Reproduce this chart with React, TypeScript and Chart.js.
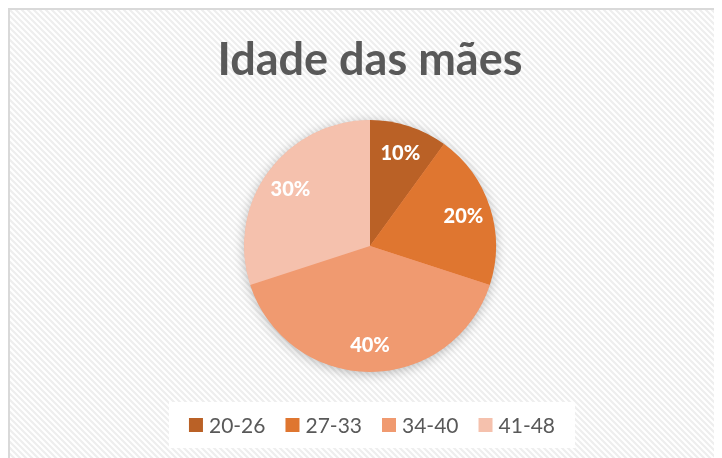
import { useEffect, useRef } from "react";
import { Chart, registerables } from "chart.js";

Chart.register(...registerables);

const chartTitle = "Idade das mães";
const categories = ["20-26", "27-33", "34-40", "41-48"];
const values = [10, 20, 40, 30];
const sliceColors = ["#BA6126", "#DF7630", "#F09A70", "#F5C1AD"];

const TEXT_GRAY = "#595959";
const FONT = "Lato, 'Open Sans', sans-serif";

function makePattern(ctx: CanvasRenderingContext2D) {
  const s = 6;
  const tile = document.createElement("canvas");
  tile.width = s;
  tile.height = s;
  const t = tile.getContext("2d")!;
  t.fillStyle = "#ffffff";
  t.fillRect(0, 0, s, s);
  t.strokeStyle = "#eeeeee";
  t.lineWidth = 2.2;
  t.beginPath();
  t.moveTo(-2, -2);
  t.lineTo(s + 2, s + 2);
  t.moveTo(-2, s - 2);
  t.lineTo(2, s + 2);
  t.moveTo(s - 2, -2);
  t.lineTo(s + 2, 2);
  t.stroke();
  return ctx.createPattern(tile, "repeat")!;
}

const decorPlugin = {
  id: "decor",
  beforeDraw(chart: any) {
    const { ctx, width, height } = chart;
    ctx.save();
    ctx.fillStyle = makePattern(ctx);
    ctx.fillRect(0, 0, width, height);
    ctx.fillStyle = "#D9D9D9";
    ctx.fillRect(0, 0, width, 2);
    ctx.fillRect(0, 0, 2, height);
    ctx.restore();
  },
  beforeDatasetsDraw(chart: any) {
    const arc = chart.getDatasetMeta(0).data[0];
    if (!arc) return;
    const { x, y, outerRadius } = arc.getProps(["x", "y", "outerRadius"], true);
    const ctx = chart.ctx;
    ctx.save();
    ctx.shadowColor = "rgba(0,0,0,0.28)";
    ctx.shadowBlur = 12;
    ctx.shadowOffsetY = 2;
    ctx.beginPath();
    ctx.arc(x, y, outerRadius - 0.5, 0, Math.PI * 2);
    ctx.fillStyle = sliceColors[2];
    ctx.fill();
    ctx.restore();
  },
  afterDatasetsDraw(chart: any) {
    const ctx = chart.ctx;
    const meta = chart.getDatasetMeta(0);
    const data = chart.data.datasets[0].data as number[];
    const total = data.reduce((a, b) => a + b, 0);
    ctx.save();
    ctx.fillStyle = "#ffffff";
    ctx.font = `900 20px ${FONT}`;
    ctx.textAlign = "center";
    ctx.textBaseline = "middle";
    meta.data.forEach((arc: any, i: number) => {
      const { x, y, startAngle, endAngle, outerRadius } = arc.getProps(
        ["x", "y", "startAngle", "endAngle", "outerRadius"],
        true
      );
      const mid = (startAngle + endAngle) / 2;
      const r = outerRadius * 0.78;
      const pct = Math.round((data[i] / total) * 100) + "%";
      ctx.fillText(pct, x + Math.cos(mid) * r, y + Math.sin(mid) * r + 1);
    });
    ctx.restore();
  },
  afterDraw(chart: any) {
    const ctx = chart.ctx;
    const area = chart.chartArea;
    const labels = chart.data.labels as string[];
    const colors = chart.data.datasets[0].backgroundColor as string[];
    ctx.save();
    ctx.font = `21px ${FONT}`;
    const box = 14;
    const gapBoxText = 6;
    const gapItems = 20;
    const widths = labels.map((l) => box + gapBoxText + ctx.measureText(l).width);
    const total = widths.reduce((a, b) => a + b, 0) + gapItems * (labels.length - 1);
    const cx = (area.left + area.right) / 2 + 2;
    const cy = area.bottom + 53;
    const padX = 20;
    ctx.fillStyle = "#ffffff";
    ctx.fillRect(cx - total / 2 - padX, cy - 23, total + padX * 2, 46);
    let x = cx - total / 2;
    ctx.textBaseline = "middle";
    ctx.textAlign = "left";
    labels.forEach((l, i) => {
      ctx.fillStyle = colors[i];
      ctx.fillRect(x, cy - box / 2, box, box);
      ctx.fillStyle = TEXT_GRAY;
      ctx.fillText(l, x + box + gapBoxText, cy + 1);
      x += widths[i] + gapItems;
    });
    ctx.restore();
  },
};

export default function App() {
  const ref = useRef<HTMLCanvasElement>(null);
  useEffect(() => {
    let chart: Chart | null = null;
    let cancelled = false;
    const make = () => {
      if (cancelled || !ref.current) return;
      chart = new Chart(ref.current, {
        type: "pie",
        data: {
          labels: categories,
          datasets: [
            {
              data: values,
              backgroundColor: sliceColors,
              borderWidth: 0,
            },
          ],
        },
        options: {
          animation: false,
          responsive: false,
          layout: { padding: { top: 0, bottom: 86, left: 10, right: 0 } },
          plugins: {
            legend: { display: false },
            tooltip: { enabled: false },
            title: {
              display: true,
              text: chartTitle,
              color: TEXT_GRAY,
              font: { family: FONT, size: 45, weight: "bold", lineHeight: 1.2 },
              padding: { top: 25, bottom: 33 },
            },
          },
        },
        plugins: [decorPlugin],
      });
    };
    Promise.all([
      document.fonts.load(`bold 45px Lato`),
      document.fonts.load(`900 20px Lato`),
      document.fonts.load(`21px Lato`),
    ])
      .catch(() => null)
      .then(make);
    return () => {
      cancelled = true;
      if (chart) chart.destroy();
    };
  }, []);
  return (
    <div style={{ width: 714, height: 450 }}>
      <canvas ref={ref} width={714} height={450} style={{ display: "block" }} />
    </div>
  );
}
